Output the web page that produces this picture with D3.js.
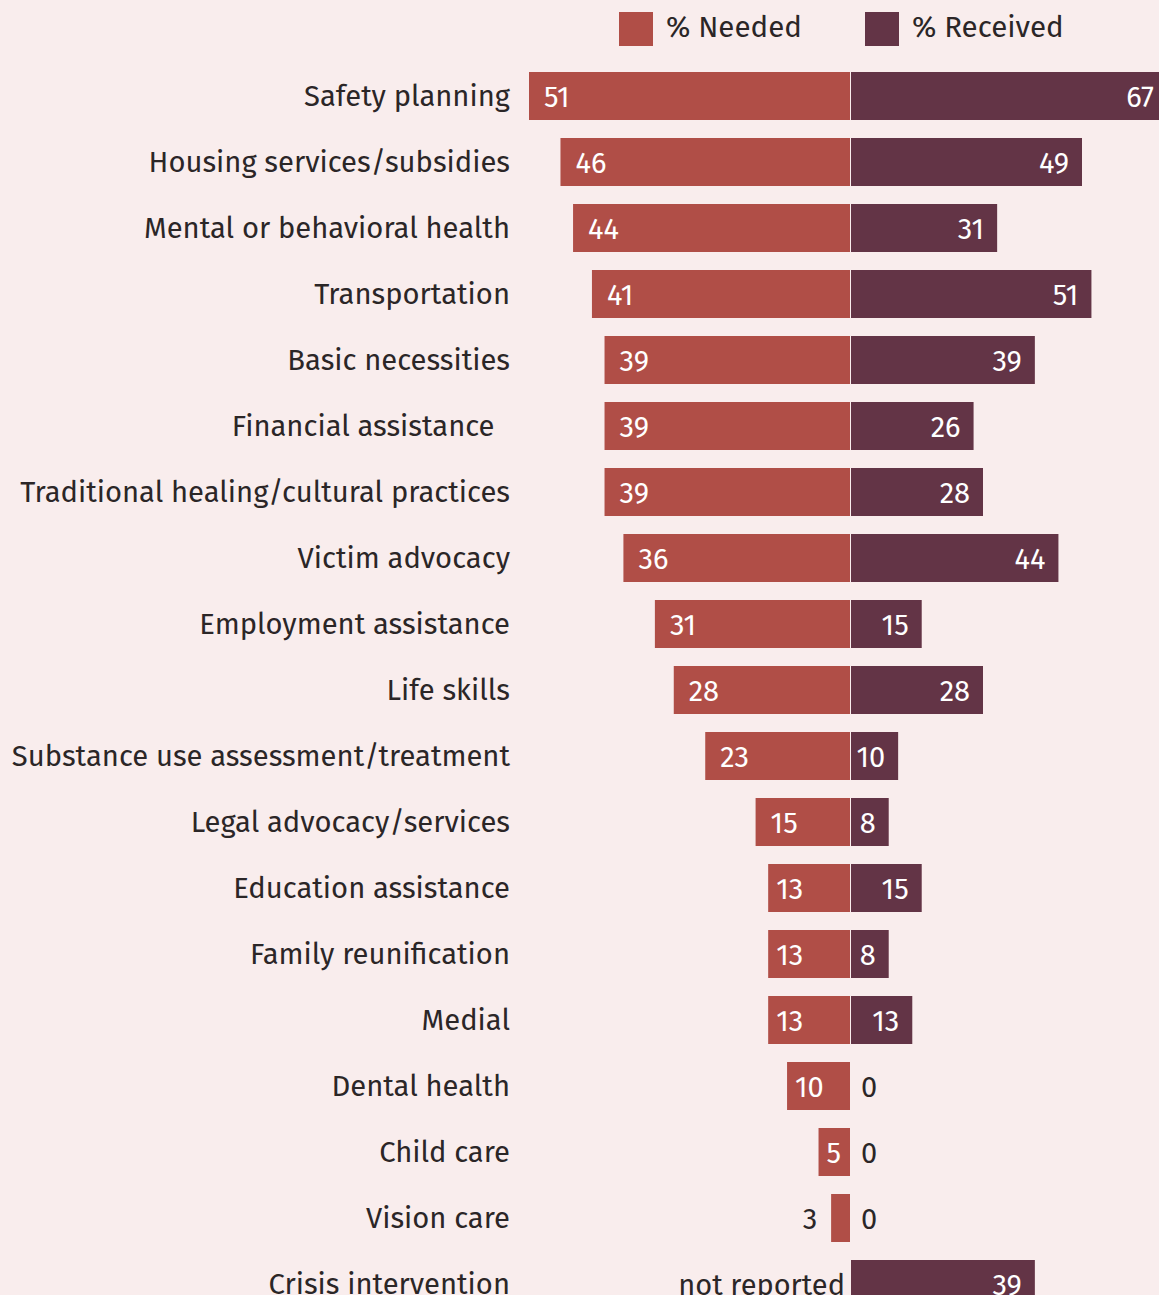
<!DOCTYPE html>
<html>
<head>
<meta charset="utf-8">
<script src="https://cdn.jsdelivr.net/npm/d3@7"></script>
<style>
  body { margin: 0; background: #f9eded; }
  svg { display: block; font-family: "Fira Sans", "Noto Sans", sans-serif; }
</style>
</head>
<body>
<svg id="chart" width="1159" height="1295"></svg>
<script>
var services = [
  "Safety planning", "Housing services/subsidies", "Mental or behavioral health",
  "Transportation", "Basic necessities", "Financial assistance  ",
  "Traditional healing/cultural practices", "Victim advocacy", "Employment assistance",
  "Life skills", "Substance use assessment/treatment", "Legal advocacy/services",
  "Education assistance", "Family reunification", "Medial", "Dental health",
  "Child care", "Vision care", "Crisis intervention"
];
var needed = [51, 46, 44, 41, 39, 39, 39, 36, 31, 28, 23, 15, 13, 13, 13, 10, 5, 3, null];
var received = [67, 49, 31, 51, 39, 26, 28, 44, 15, 28, 10, 8, 15, 8, 13, 0, 0, 0, 39];
var legendLabels = ["% Needed", "% Received"];

var colNeeded = "#b04e47", colReceived = "#633446", ink = "#2b2627";

var svg = d3.select("#chart"),
    center = 850;

var data = services.map(function(s, i) {
  return {name: s, needed: needed[i], received: received[i]};
});

var y = d3.scaleBand()
    .domain(services)
    .range([72, 72 + 66 * services.length - 18])
    .paddingInner(18 / 66)
    .paddingOuter(0);

// the two halves use different scales in the original
var xn = d3.scaleLinear().domain([0, 51]).range([0, 321]);
var xr = d3.scaleLinear().domain([0, 49]).range([0, 231]);

// legend
var legend = svg.append("g");
legendLabels.forEach(function(t, i) {
  var lx = 619 + i * 246;
  legend.append("rect").attr("x", lx).attr("y", 12).attr("width", 34).attr("height", 34)
      .attr("fill", i === 0 ? colNeeded : colReceived);
  legend.append("text").attr("x", lx + 47).attr("y", 37)
      .attr("font-size", 29.5).attr("fill", ink).text(t);
});

var rows = svg.selectAll(".row")
    .data(data)
  .enter().append("g")
    .attr("class", "row")
    .attr("transform", function(d) { return "translate(0," + y(d.name) + ")"; });

var h = y.bandwidth(), mid = h / 2;

rows.append("text")
    .attr("x", 510)
    .attr("y", mid)
    .attr("dy", "0.35em")
    .attr("text-anchor", "end")
    .attr("font-size", 29.2)
    .attr("fill", ink)
    .style("white-space", "pre")
    .text(function(d) { return d.name; });

rows.filter(function(d) { return d.needed != null; })
  .append("rect")
    .attr("x", function(d) { return center - xn(d.needed); })
    .attr("width", function(d) { return xn(d.needed); })
    .attr("height", h)
    .attr("fill", colNeeded);

rows.append("rect")
    .attr("x", center + 1)
    .attr("width", function(d) { return xr(d.received); })
    .attr("height", h)
    .attr("fill", colReceived);

// needed labels
rows.append("text")
    .attr("y", mid)
    .attr("dy", "0.37em")
    .attr("font-size", 29)
    .attr("text-anchor", function(d) { return d.needed == null || d.needed < 5 ? "end" : "start"; })
    .attr("x", function(d) {
      if (d.needed == null) return center - 5;
      var x0 = center - xn(d.needed);
      if (d.needed < 5) return x0 - 14;
      return x0 + (d.needed <= 13 ? 8 : 15);
    })
    .attr("fill", function(d) { return d.needed == null || d.needed < 5 ? ink : "#fff"; })
    .text(function(d) { return d.needed == null ? "not reported" : d.needed; });

// received labels
rows.append("text")
    .attr("y", mid)
    .attr("dy", "0.37em")
    .attr("font-size", 29)
    .attr("text-anchor", function(d) { return d.received === 0 ? "start" : "end"; })
    .attr("x", function(d) {
      if (d.received === 0) return center + 11;
      return Math.min(center + 1 + xr(d.received), 1167) - 13;
    })
    .attr("fill", function(d) { return d.received === 0 ? ink : "#fff"; })
    .text(function(d) { return d.received; });
</script>
</body>
</html>
